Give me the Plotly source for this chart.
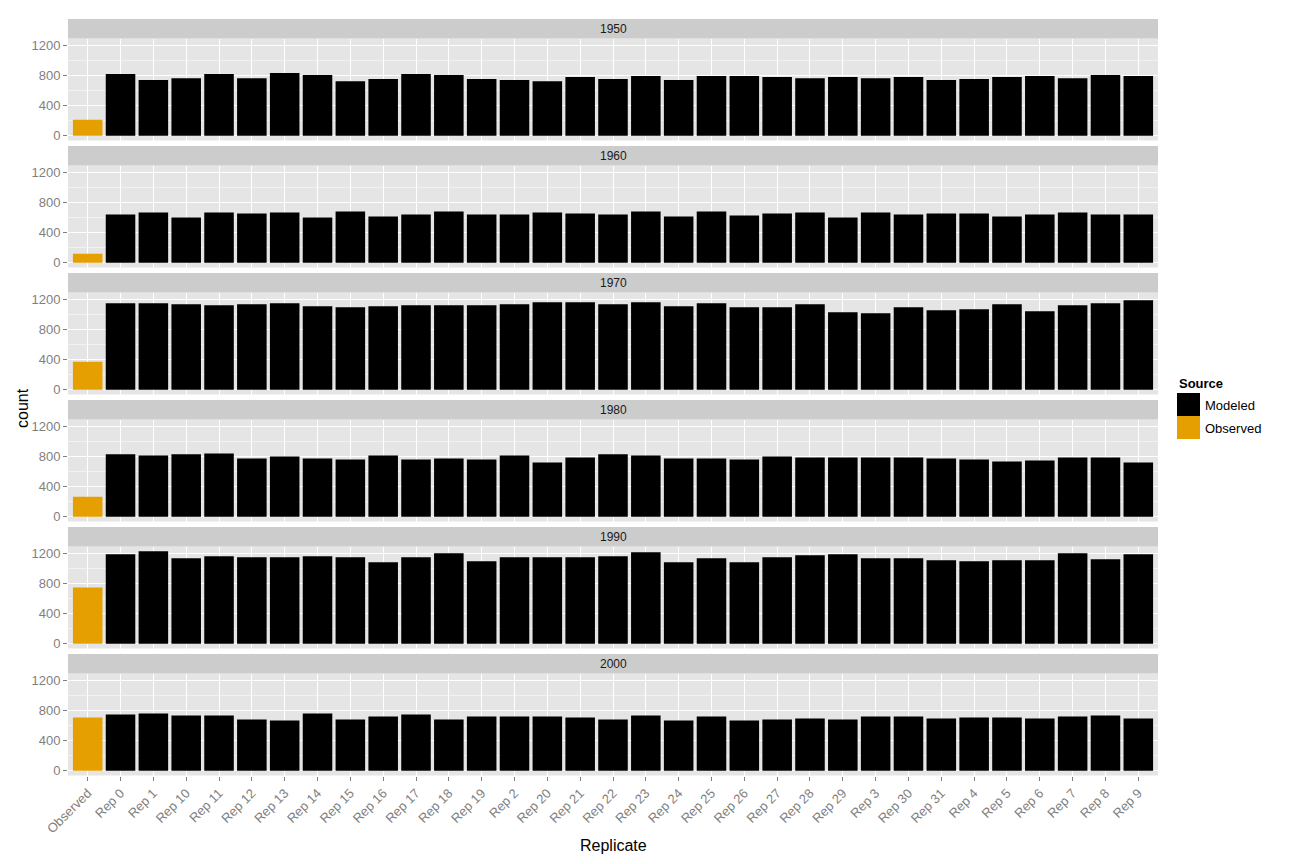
import plotly.graph_objects as go
from plotly.subplots import make_subplots

years = ["1950", "1960", "1970", "1980", "1990", "2000"]
categories = ["Observed", "Rep 0", "Rep 1", "Rep 10", "Rep 11", "Rep 12", "Rep 13", "Rep 14",
              "Rep 15", "Rep 16", "Rep 17", "Rep 18", "Rep 19", "Rep 2", "Rep 20", "Rep 21",
              "Rep 22", "Rep 23", "Rep 24", "Rep 25", "Rep 26", "Rep 27", "Rep 28", "Rep 29",
              "Rep 3", "Rep 30", "Rep 31", "Rep 4", "Rep 5", "Rep 6", "Rep 7", "Rep 8", "Rep 9"]

observed = [213, 120, 373, 267, 747, 707]

modeled_1950 = [818, 738, 764, 818, 764, 831, 804, 724, 751, 818, 804, 751, 738, 724, 778, 751,
                791, 738, 791, 791, 778, 764, 778, 764, 778, 738, 751, 778, 791, 764, 804, 791]
modeled_1960 = [640, 667, 600, 667, 653, 667, 600, 680, 613, 640, 680, 640, 640, 667, 653, 640,
                680, 613, 680, 627, 653, 667, 600, 667, 640, 653, 653, 613, 640, 667, 640, 640]
modeled_1970 = [1147, 1147, 1133, 1120, 1133, 1147, 1107, 1093, 1107, 1120, 1120, 1120, 1133, 1160, 1160, 1133,
                1160, 1107, 1147, 1093, 1093, 1133, 1027, 1013, 1093, 1053, 1067, 1133, 1040, 1120, 1147, 1187]
modeled_1980 = [827, 813, 827, 840, 773, 800, 773, 760, 813, 760, 773, 760, 813, 720, 787, 827,
                813, 773, 773, 760, 800, 787, 787, 787, 787, 773, 760, 733, 747, 787, 787, 720]
modeled_1990 = [1187, 1227, 1133, 1160, 1147, 1147, 1160, 1147, 1080, 1147, 1200, 1093, 1147, 1147, 1147, 1160,
                1213, 1080, 1133, 1080, 1147, 1173, 1187, 1133, 1133, 1107, 1093, 1107, 1107, 1200, 1120, 1187]
modeled_2000 = [747, 760, 733, 733, 680, 667, 760, 680, 720, 747, 680, 720, 720, 720, 707, 680,
                733, 667, 720, 667, 680, 693, 680, 720, 720, 693, 707, 707, 693, 720, 733, 693]
modeled = [modeled_1950, modeled_1960, modeled_1970, modeled_1980, modeled_1990, modeled_2000]

source_names = ["Modeled", "Observed"]
source_colors = {"Modeled": "#000000", "Observed": "#E69F00"}

W, H = 1296, 864
L, R, T, B = 68, 1158, 19, 776
PW, PH = R - L, B - T

def py(px):
    return (B - px) / PH

def pxx(px):
    return (px - L) / PW

fig = make_subplots(rows=6, cols=1, shared_xaxes=True)

FONT = "Liberation Sans, Arial, sans-serif"
GREY = "#7F7F7F"

ymax = max(max(max(m) for m in modeled), max(observed))
yrange = [-0.05 * ymax, 1.05 * ymax]

first_bot, last_bot = 140.5, 775.5
period = (last_bot - first_bot) / 5.0
for i, yr in enumerate(years):
    r = i + 1
    fig.add_trace(go.Bar(x=[categories[0]], y=[observed[i]], marker=dict(color=source_colors["Observed"], line=dict(width=0)),
                         name="Observed", showlegend=False, width=0.9), row=r, col=1)
    fig.add_trace(go.Bar(x=categories[1:], y=modeled[i], marker=dict(color=source_colors["Modeled"], line=dict(width=0)),
                         name="Modeled", showlegend=False, width=0.9), row=r, col=1)
    bot = first_bot + period * i
    top = bot - 102
    stop = top - 19.5
    ax = "yaxis" if i == 0 else f"yaxis{r}"
    fig.layout[ax].update(domain=[py(bot), py(top)], range=yrange,
                          tickmode="array", tickvals=[0, 400, 800, 1200],
                          ticktext=["0", "400", "800", "1200"],
                          showgrid=True, gridcolor="#FFFFFF", gridwidth=1.1,
                          minor=dict(tickmode="array", tickvals=[200, 600, 1000], showgrid=True,
                                     gridcolor="#F2F2F2", gridwidth=0.8, ticks=""),
                          ticks="outside", ticklen=4, tickcolor=GREY, tickwidth=1,
                          tickfont=dict(family=FONT, size=13, color=GREY),
                          zeroline=False, showline=False, fixedrange=True)
    xa = "xaxis" if i == 0 else f"xaxis{r}"
    last = (i == 5)
    fig.layout[xa].update(type="category", categoryorder="array", categoryarray=categories,
                          range=[-0.6, len(categories) - 0.4],
                          showgrid=True, gridcolor="#FFFFFF", gridwidth=1.1,
                          zeroline=False, showline=False,
                          ticks="outside" if last else "", ticklen=4, tickcolor=GREY,
                          showticklabels=last, tickangle=-45,
                          tickfont=dict(family=FONT, size=13, color=GREY))
    # strip
    fig.add_shape(type="rect", xref="paper", yref="paper", x0=0, x1=1, y0=py(top), y1=py(stop),
                  fillcolor="#CCCCCC", line=dict(width=0), layer="below")
    fig.add_annotation(xref="paper", yref="paper", x=0.5, y=(py(top) + py(stop)) / 2,
                       text=yr, showarrow=False, font=dict(family=FONT, size=12, color="#1A1A1A"),
                       xanchor="center", yanchor="middle")

# axis titles
fig.add_annotation(xref="paper", yref="paper", x=pxx(613), y=py(845), text="Replicate", showarrow=False,
                   font=dict(family=FONT, size=16, color="#000000"), xanchor="center", yanchor="middle")
fig.add_annotation(xref="paper", yref="paper", x=pxx(22), y=py(408), text="count", showarrow=False,
                   textangle=-90, font=dict(family=FONT, size=16, color="#000000"),
                   xanchor="center", yanchor="middle")

# legend (drawn)
fig.add_annotation(xref="paper", yref="paper", x=pxx(1177), y=py(383), text="<b>Source</b>", showarrow=False,
                   font=dict(family=FONT, size=13, color="#000000"), xanchor="left", yanchor="middle")
for k, nm in enumerate(source_names):
    y0 = 393 + 23 * k
    fig.add_shape(type="rect", xref="paper", yref="paper", x0=pxx(1177), x1=pxx(1200),
                  y0=py(y0 + 23), y1=py(y0), fillcolor=source_colors[nm], line=dict(width=0))
    fig.add_annotation(xref="paper", yref="paper", x=pxx(1203), y=py(y0 + 12), text=nm, showarrow=False,
                       font=dict(family=FONT, size=13, color="#000000"), xanchor="left", yanchor="middle")

fig.update_layout(width=W, height=H, margin=dict(l=L, r=W - R, t=T, b=H - B, pad=0),
                  paper_bgcolor="#FFFFFF", plot_bgcolor="#E5E5E5",
                  bargap=0.1, barmode="overlay", showlegend=False,
                  font=dict(family=FONT))

fig.write_html("out.html")
